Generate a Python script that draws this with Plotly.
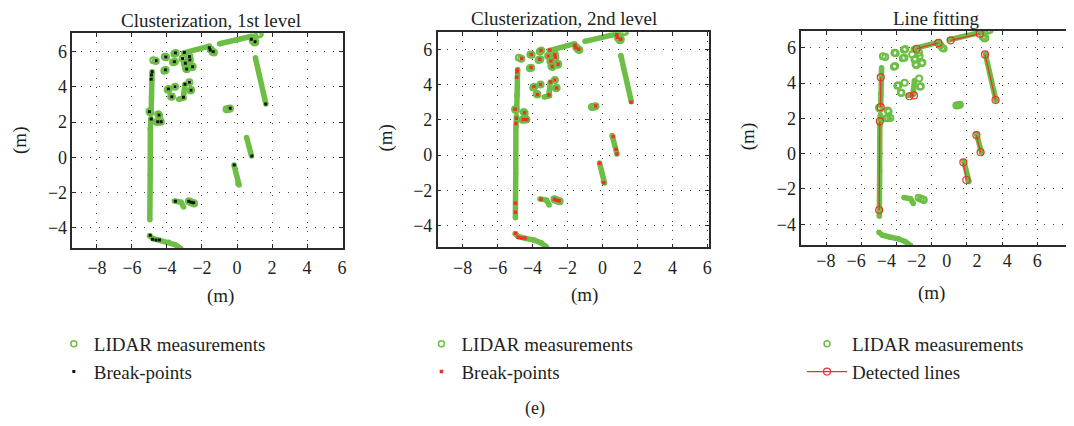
import plotly.graph_objects as go

# ---------------- data (metres) ----------------
# dense LIDAR runs (polylines, None separates runs)
lidar_line_x = [-4.85, -4.87, -4.89, -4.90, None,
                -4.92, -4.95, -4.96, -4.98, None,
                -2.98, -3.04, -3.06, None,
                -3.33, -3.02, None,
                -3.05, -1.58, None,
                -1.00, 0.85, None,
                1.05, 1.65, None,
                0.55, 0.83, None,
                -0.17, 0.05, 0.12, None,
                -3.58, -3.20, -3.05, None,
                -5.00, -4.80, -4.40, -3.90, -3.50, -3.20]
lidar_line_y = [4.86, 4.40, 3.40, 2.70, None,
                2.20, 1.60, -1.00, -3.55, None,
                4.15, 3.60, 3.41, None,
                3.30, 3.37, None,
                5.93, 6.32, None,
                6.45, 6.88, None,
                5.65, 3.03, None,
                1.12, 0.07, None,
                -0.44, -1.50, -1.58, None,
                -2.48, -2.55, -2.82, None,
                -4.45, -4.62, -4.72, -4.82, -4.98, -5.20]

# isolated LIDAR returns
lidar_pt_x = [-4.78, -4.64, -4.12, -4.05, -3.58, -3.50, -3.65, -3.55, -3.11,
              -2.72, -2.69, -2.98, -2.93, -2.92, -2.87, -2.57, -2.53, -4.15,
              -4.08, -3.96, -3.90, -3.54, -2.72, -2.66, -2.62, -3.76, -3.72,
              -4.50, -4.45, -4.58, -4.50, -4.35, -0.60, -0.50, -0.40, -2.75,
              -2.62, -2.50, -2.45, 1.18, 1.30, 0.90, 1.00, 1.05, -1.50, -1.40,
              -1.32, -5.00, -4.95]
lidar_pt_y = [5.52, 5.47, 5.71, 5.69, 5.88, 5.93, 5.40, 5.43, 5.62,
              5.72, 5.53, 5.32, 5.36, 5.06, 5.00, 5.12, 5.16, 4.92,
              4.96, 3.84, 3.88, 4.01, 4.26, 3.79, 3.82, 3.46, 3.44,
              2.45, 2.38, 2.00, 2.02, 2.02, 2.73, 2.74, 2.77, -2.50,
              -2.55, -2.60, -2.62, 6.96, 7.00, 6.62, 6.52, 6.55, 6.12, 6.00,
              5.96, 2.60, 2.55]

# break-points, 1st level clusterization
bp1_x = [-4.62, -4.07, -3.52, -3.01, -1.58, -1.53, -1.36, -3.11, -2.72, -2.69,
         -3.58, -2.95, -2.88, -2.54, -4.09, -4.85, -4.89, -4.90, -3.92, -3.54,
         -2.97, -3.06, -2.72, -2.63, -3.73, -5.00, -4.90, -4.46, -4.53, -4.33,
         -0.39, 0.85, -0.16, -3.52, -2.76, -2.62, -2.48, -4.96, -4.83, -4.63,
         -4.43, 0.82, 1.03, 1.64]
bp1_y = [5.48, 5.70, 5.93, 5.96, 6.23, 6.10, 6.00, 5.62, 5.72, 5.53,
         5.43, 5.34, 5.02, 5.15, 4.96, 4.86, 4.68, 4.43, 3.88, 4.01,
         4.15, 3.41, 4.26, 3.81, 3.44, 2.59, 2.18, 2.40, 2.02, 2.02,
         2.78, 0.07, -0.44, -2.50, -2.50, -2.55, -2.58, -4.43, -4.66, -4.70,
         -4.70, 6.70, 6.57, 3.03]

# break-points, 2nd level clusterization
bp2_x = [-4.62, -4.07, -3.52, -3.01, -1.58, -1.53, -1.36, -3.11, -2.72, -2.69,
         -3.58, -2.95, -2.88, -2.54, -4.09, -4.87, -4.89, -4.90, -3.92, -3.54,
         -2.97, -3.06, -2.72, -2.63, -3.73, -5.00, -4.93, -4.46, -4.53, -4.33,
         -0.39, 0.83, -0.16, -3.52, -2.76, -2.62, -2.48, -4.96, -4.83, -4.63,
         -4.43, 0.82, 0.85, 1.03, 1.64, -4.95, -4.98, -4.98, 0.63, 0.78, 0.07]
bp2_y = [5.48, 5.70, 5.93, 5.96, 6.23, 6.10, 6.00, 5.62, 5.72, 5.53,
         5.43, 5.34, 5.02, 5.15, 4.96, 4.83, 4.73, 4.41, 3.88, 4.01,
         4.15, 3.41, 4.26, 3.81, 3.44, 2.60, 2.09, 2.40, 2.02, 2.02,
         2.78, 0.06, -0.46, -2.50, -2.50, -2.55, -2.58, -4.43, -4.66, -4.70,
         -4.70, 6.82, 6.68, 6.57, 3.00, 1.80, -2.73, -3.24, 1.05, 0.33, -1.56]

# detected lines (end points, None separates lines)
lines_x = [-4.90, -4.90, None, -4.95, -4.99, None, -2.86, -1.62, None,
           -0.92, 0.73, None, 1.03, 1.63, None, 0.54, 0.78, None,
           -0.20, -0.03, None, -3.27, -3.01]
lines_y = [4.32, 2.64, None, 1.83, -3.19, None, 5.94, 6.27, None,
           6.42, 6.79, None, 5.62, 3.04, None, 1.05, 0.08, None,
           -0.49, -1.49, None, 3.25, 3.30]

x_ticks = [-8, -6, -4, -2, 0, 2, 4, 6]
y_ticks = [-4, -2, 0, 2, 4, 6]
titles = ["Clusterization, 1st level", "Clusterization, 2nd level", "Line fitting"]

# ---------------- styling ----------------
OFF = 8                      # page body margin of the html page
W, H = 1074 - OFF, 426 - OFF
FONT = "Liberation Serif"
GREEN = "#6cbe45"
RED = "#e8342a"
TXT = "#231f20"


def fx(p):
    return (p - OFF) / W


def fy(p):
    return 1 - (p - OFF) / H


fig = go.Figure()

axes = [("x", "y"), ("x2", "y2"), ("x3", "y3")]
for i, (xa, ya) in enumerate(axes):
    fig.add_trace(go.Scatter(x=lidar_line_x, y=lidar_line_y, xaxis=xa, yaxis=ya,
                             mode="lines+markers", line=dict(color=GREEN, width=5.5),
                             marker=dict(color=GREEN, size=5.5), showlegend=False,
                             hoverinfo="skip"))
    fig.add_trace(go.Scatter(x=lidar_pt_x, y=lidar_pt_y, xaxis=xa, yaxis=ya,
                             mode="markers",
                             marker=dict(symbol="circle-open", color=GREEN, size=6,
                                         line=dict(width=2, color=GREEN)),
                             showlegend=False, hoverinfo="skip"))

fig.add_trace(go.Scatter(x=bp1_x, y=bp1_y, xaxis="x", yaxis="y", mode="markers",
                         marker=dict(symbol="square", color="#111", size=3),
                         showlegend=False, hoverinfo="skip"))
fig.add_trace(go.Scatter(x=bp2_x, y=bp2_y, xaxis="x2", yaxis="y2", mode="markers",
                         marker=dict(symbol="square", color=RED, size=3.5),
                         showlegend=False, hoverinfo="skip"))
fig.add_trace(go.Scatter(x=lines_x, y=lines_y, xaxis="x3", yaxis="y3",
                         mode="lines+markers", line=dict(color=RED, width=1.2),
                         marker=dict(symbol="circle-open", color=RED, size=7,
                                     line=dict(width=1.2, color=RED)),
                         showlegend=False, hoverinfo="skip"))
# dummy trace so the label axis of panel 3 is drawn
fig.add_trace(go.Scatter(x=[None], y=[None], xaxis="x4", yaxis="y3",
                         showlegend=False, hoverinfo="skip"))

# legend entries
lidar_leg = dict(mode="markers", marker=dict(symbol="circle-open", color=GREEN, size=6,
                                             line=dict(width=1.5, color=GREEN)))
for lg, xa, ya in [("legend", "x", "y"), ("legend2", "x2", "y2"), ("legend3", "x3", "y3")]:
    fig.add_trace(go.Scatter(x=[None], y=[None], xaxis=xa, yaxis=ya,
                             name="LIDAR measurements", legend=lg, **lidar_leg))
fig.add_trace(go.Scatter(x=[None], y=[None], xaxis="x", yaxis="y", name="Break-points",
                         legend="legend", mode="markers",
                         marker=dict(symbol="square", color="#111", size=3)))
fig.add_trace(go.Scatter(x=[None], y=[None], xaxis="x2", yaxis="y2", name="Break-points",
                         legend="legend2", mode="markers",
                         marker=dict(symbol="square", color=RED, size=3.5)))
fig.add_trace(go.Scatter(x=[None], y=[None], xaxis="x3", yaxis="y3", name="Detected lines",
                         legend="legend3", mode="lines+markers",
                         line=dict(color=RED, width=1.2),
                         marker=dict(symbol="circle-open", color=RED, size=7,
                                     line=dict(width=1.2, color=RED))))

grid = dict(showgrid=True, gridcolor="#444", gridwidth=1, griddash="1px,8px",
            zeroline=False, showline=True, linecolor="#2a2a2a", linewidth=1.6,
            ticks="inside", ticklen=4, tickwidth=1, tickcolor="#2a2a2a",
            tickfont=dict(family=FONT, size=18, color=TXT))

# panel boxes in pixels: (left, right, top, bottom), ranges
boxes = [
    (72.7, 344.0, 33.0, 248.0, [-9.40, 6.04], [-5.153, 7.062]),
    (439.3, 711.7, 32.3, 247.3, [-9.425, 6.097], [-5.224, 6.964]),
    (804.3, 1074.0, 30.7, 245.3, [-9.416, 5.864], [-5.189, 6.963]),
]
lay = {}
for i, (l, r, t, b, xr, yr) in enumerate(boxes):
    sx = "" if i == 0 else str(i + 1)
    xd = dict(grid, domain=[fx(l), min(fx(r), 1.0)], range=xr, anchor="y" + sx,
              tickvals=x_ticks, mirror="allticks", ticklabelstandoff=3)
    yd = dict(grid, domain=[fy(b), fy(t)], range=yr, anchor="x" + sx,
              tickvals=y_ticks, mirror="allticks" if i < 2 else False)
    if i == 2:
        xd["showticklabels"] = False
    lay["xaxis" + sx] = xd
    lay["yaxis" + sx] = yd

# tick labels of panel 3 (printed more tightly than its grid)
lay["xaxis4"] = dict(overlaying="x3", anchor="y3", range=[-9.63, 8.16], tickvals=x_ticks,
                     showgrid=False, zeroline=False, showline=False, ticks="",
                     side="bottom", ticklabelstandoff=3,
                     tickfont=dict(family=FONT, size=18, color=TXT))

leg_common = dict(yanchor="top", xanchor="left", y=fy(325), bgcolor="rgba(0,0,0,0)",
                  font=dict(family=FONT, size=19, color=TXT), tracegroupgap=0)
lay["legend"] = dict(leg_common, x=fx(54))
lay["legend2"] = dict(leg_common, x=fx(423))
lay["legend3"] = dict(leg_common, x=fx(805), itemwidth=40)

ann = []
title_pos = [(212, 20), (566, 19), (940, 19)]
for txt, (x, y) in zip(titles, title_pos):
    ann.append(dict(text=txt, x=fx(x), y=fy(y), xref="paper", yref="paper",
                    showarrow=False, xanchor="center", yanchor="middle",
                    font=dict(family=FONT, size=19, color=TXT)))
for x, y in [(221, 296), (587, 295), (935, 293)]:
    ann.append(dict(text="(m)", x=fx(x), y=fy(y), xref="paper", yref="paper",
                    showarrow=False, xanchor="center", yanchor="middle",
                    font=dict(family=FONT, size=19, color=TXT)))
for x, y in [(20, 140), (387, 138), (751, 137)]:
    ann.append(dict(text="(m)", x=fx(x), y=fy(y), xref="paper", yref="paper",
                    showarrow=False, xanchor="center", yanchor="middle", textangle=-90,
                    font=dict(family=FONT, size=19, color=TXT)))
ann.append(dict(text="(e)", x=fx(537), y=fy(408), xref="paper", yref="paper",
                showarrow=False, xanchor="center", yanchor="middle",
                font=dict(family=FONT, size=18, color=TXT)))

fig.update_layout(width=W, height=H, margin=dict(l=0, r=0, t=0, b=0),
                  paper_bgcolor="white", plot_bgcolor="white",
                  annotations=ann, **lay)

fig.write_html("out.html")
